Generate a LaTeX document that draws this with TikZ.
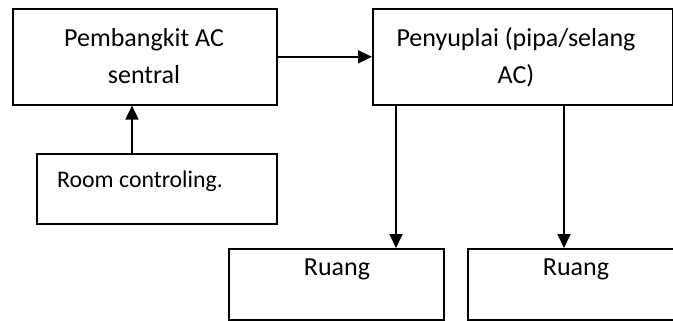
\documentclass[tikz,border=0pt]{standalone}
\usepackage{fontspec}
\setmainfont{Carlito}
\usetikzlibrary{arrows.meta}
\begin{document}
\begin{tikzpicture}[x=1bp,y=-1bp,
  box/.style={draw,line width=1.6bp,inner sep=0pt,anchor=north west},
  txt/.style={inner sep=0pt,anchor=base,font=\fontsize{26bp}{31bp}\selectfont},
  smalltxt/.style={inner sep=0pt,anchor=base west,font=\fontsize{23.8bp}{29bp}\selectfont},
  arr/.style={line width=1.8bp,-{Triangle[length=14bp,width=13bp]}}]
\useasboundingbox (0,0) rectangle (673,320);
\node[box,minimum width=264bp,minimum height=96bp] (gen) at (12,8) {};
\node[box,minimum width=300bp,minimum height=96bp] (sup) at (372,8) {};
\node[box,minimum width=240bp,minimum height=70bp] (rc) at (36,153) {};
\node[box,minimum width=215bp,minimum height=71bp] (r1) at (228,248) {};
\node[box,minimum width=206bp,minimum height=71bp] (r2) at (467,248) {};
\node[txt] (t1) at (144,46) {Pembangkit AC};
\node[txt] (t2) at (144,83) {sentral};
\node[txt] (t3) at (516,46) {Penyuplai (pipa/selang};
\node[txt] (t4) at (516,83) {AC)};
\node[smalltxt] (t5) at (57,187) {Room controling.};
\node[txt] (t6) at (337,275) {Ruang};
\node[txt] (t7) at (576,275) {Ruang};
\coordinate (ux) at (132,0);
\coordinate (d1) at (396,0);
\coordinate (d2) at (564,0);
\draw[arr] (gen.east) -- (sup.west);
\draw[arr] (ux |- rc.north) -- (ux |- gen.south);
\draw[arr] (d1 |- sup.south) -- (d1 |- r1.north);
\draw[arr] (d2 |- sup.south) -- (d2 |- r2.north);
\end{tikzpicture}
\end{document}
